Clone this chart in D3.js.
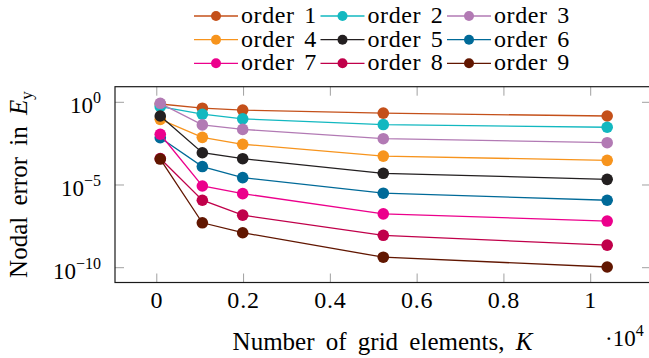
<!DOCTYPE html>
<html>
<head>
<meta charset="utf-8">
<script src="https://cdn.jsdelivr.net/npm/d3@7"></script>
<style>
  body { margin: 0; background: #fff; }
</style>
</head>
<body>
<div id="container"></div>
<script>
// Dados
var orders = ["order 1", "order 2", "order 3", "order 4", "order 5", "order 6", "order 7", "order 8", "order 9"];
var colors = ["#c4501a", "#12b8c0", "#b27ab4", "#f7941d", "#231f20", "#006a98", "#ec008c", "#c0004a", "#611600"];
var elements = [80, 1050, 1980, 5220, 10380];

var err1 = [7.9e-1, 4.4e-1, 3.4e-1, 2.2e-1, 1.48e-1];
var err2 = [5.4e-1, 1.9e-1, 1.0e-1, 4.5e-2, 3.1e-2];
var err3 = [8.7e-1, 4.3e-2, 2.3e-2, 6.3e-3, 3.6e-3];
var err4 = [9.3e-2, 7.6e-3, 2.9e-3, 5.6e-4, 3.1e-4];
var err5 = [1.48e-1, 8.9e-4, 3.9e-4, 5.1e-5, 2.2e-5];
var err6 = [7.2e-3, 1.3e-4, 2.8e-5, 3.2e-6, 1.2e-6];
var err7 = [1.17e-2, 8.7e-6, 3.0e-6, 1.8e-7, 6.6e-8];
var err8 = [4.0e-4, 1.2e-6, 1.5e-7, 9.1e-9, 2.3e-9];
var err9 = [3.7e-4, 5.2e-8, 1.3e-8, 4.3e-10, 1.1e-10];

var errors = [err1, err2, err3, err4, err5, err6, err7, err8, err9];

var xTicks = [0, 2000, 4000, 6000, 8000, 10000];
var yTicks = [1e0, 1e-5, 1e-10];

var width = 649, height = 358;
var plot = { left: 115, right: 651, top: 86.7, bottom: 282.5 };
var serif = "'Liberation Serif', Tinos, 'Times New Roman', Times, 'DejaVu Serif', serif";

var svg = d3.select("#container")
  .append("svg")
  .attr("width", width)
  .attr("height", height)
  .style("font-family", serif);

// Escalas
var x = d3.scaleLinear()
  .domain([-963, 11390])
  .range([plot.left, plot.right]);

var y = d3.scaleLog()
  .domain([Math.pow(10, -10.895), Math.pow(10, 0.943)])
  .range([plot.bottom, plot.top]);

var tickLen = 9;

// Ticks (dentro do quadro, nos quatro lados)
xTicks.forEach(function(t) {
  svg.append("line")
    .attr("x1", x(t)).attr("x2", x(t))
    .attr("y1", plot.bottom).attr("y2", plot.bottom - tickLen)
    .attr("stroke", "#a0a0a0").attr("stroke-width", 1);
  svg.append("line")
    .attr("x1", x(t)).attr("x2", x(t))
    .attr("y1", plot.top).attr("y2", plot.top + tickLen)
    .attr("stroke", "#a0a0a0").attr("stroke-width", 1);
  svg.append("text")
    .text(d3.format("~g")(t / 1e4))
    .attr("x", x(t))
    .attr("y", 308)
    .attr("text-anchor", "middle")
    .style("font-family", serif)
    .attr("font-size", 24)
    .attr("letter-spacing", 0.8);
});

yTicks.forEach(function(t) {
  svg.append("line")
    .attr("x1", plot.left).attr("x2", plot.left + tickLen)
    .attr("y1", y(t)).attr("y2", y(t))
    .attr("stroke", "#a0a0a0").attr("stroke-width", 1);
  svg.append("line")
    .attr("x1", plot.right).attr("x2", plot.right - tickLen)
    .attr("y1", y(t)).attr("y2", y(t))
    .attr("stroke", "#a0a0a0").attr("stroke-width", 1);
  var lbl = svg.append("text")
    .attr("x", 101)
    .attr("y", y(t) + 11)
    .attr("text-anchor", "end")
    .style("font-family", serif)
    .attr("font-size", 23);
  lbl.append("tspan").text("10");
  lbl.append("tspan")
    .text(String(Math.round(Math.log10(t))).replace("-", "\u2212"))
    .attr("font-size", 16)
    .attr("dy", -10);
});

// Quadro
svg.append("rect")
  .attr("x", plot.left)
  .attr("y", plot.top)
  .attr("width", plot.right - plot.left)
  .attr("height", plot.bottom - plot.top)
  .attr("fill", "none")
  .attr("stroke", "#1a1a1a")
  .attr("stroke-width", 1.2);

// Séries
var line = d3.line()
  .x(function(d) { return x(d[0]) })
  .y(function(d) { return y(d[1]) });

errors.forEach(function(serie, i) {
  var pts = serie.map(function(v, j) { return [elements[j], v] });
  var g = svg.append("g");
  g.append("path")
    .datum(pts)
    .attr("d", line)
    .attr("fill", "none")
    .attr("stroke", colors[i])
    .attr("stroke-width", 1.3);
  g.selectAll("circle")
    .data(pts)
    .enter().append("circle")
    .attr("cx", function(d) { return x(d[0]) })
    .attr("cy", function(d) { return y(d[1]) })
    .attr("r", 5.8)
    .attr("fill", colors[i]);
});

// Legenda
var legX = [194, 320.5, 447], legY = [16, 39.7, 63.3];
orders.forEach(function(name, i) {
  var lx = legX[i % 3], ly = legY[Math.floor(i / 3)];
  svg.append("line")
    .attr("x1", lx).attr("x2", lx + 44)
    .attr("y1", ly).attr("y2", ly)
    .attr("stroke", colors[i]).attr("stroke-width", 1.3);
  svg.append("circle")
    .attr("cx", lx + 22).attr("cy", ly)
    .attr("r", 5)
    .attr("fill", colors[i]);
  svg.append("text")
    .text(name)
    .attr("x", lx + 47)
    .attr("y", ly + 7)
    .style("font-family", serif)
    .attr("font-size", 24)
    .attr("letter-spacing", 0.6)
    .attr("word-spacing", 3);
});

// Rótulos dos eixos
var xl = svg.append("text")
  .attr("x", (plot.left + 650) / 2)
  .attr("y", 349.5)
  .attr("text-anchor", "middle")
  .style("font-family", serif)
  .attr("font-size", 25)
  .attr("word-spacing", 5);
xl.append("tspan").text("Number of grid elements, ");
xl.append("tspan").text("K").attr("font-style", "italic");

var mult = svg.append("text")
  .attr("x", 605)
  .attr("y", 346)
  .style("font-family", serif)
  .attr("font-size", 23);
mult.append("tspan").text("\u00b710");
mult.append("tspan").text("4").attr("font-size", 16).attr("dy", -10);

var yl = svg.append("text")
  .attr("transform", "translate(27," + ((plot.top + plot.bottom) / 2) + ") rotate(-90)")
  .attr("text-anchor", "middle")
  .style("font-family", serif)
  .attr("font-size", 25)
  .attr("word-spacing", 5);
yl.append("tspan").text("Nodal error in ");
yl.append("tspan").text("E").attr("font-style", "italic");
yl.append("tspan").text("y").attr("font-size", 17).attr("dy", 5);
</script>
</body>
</html>
